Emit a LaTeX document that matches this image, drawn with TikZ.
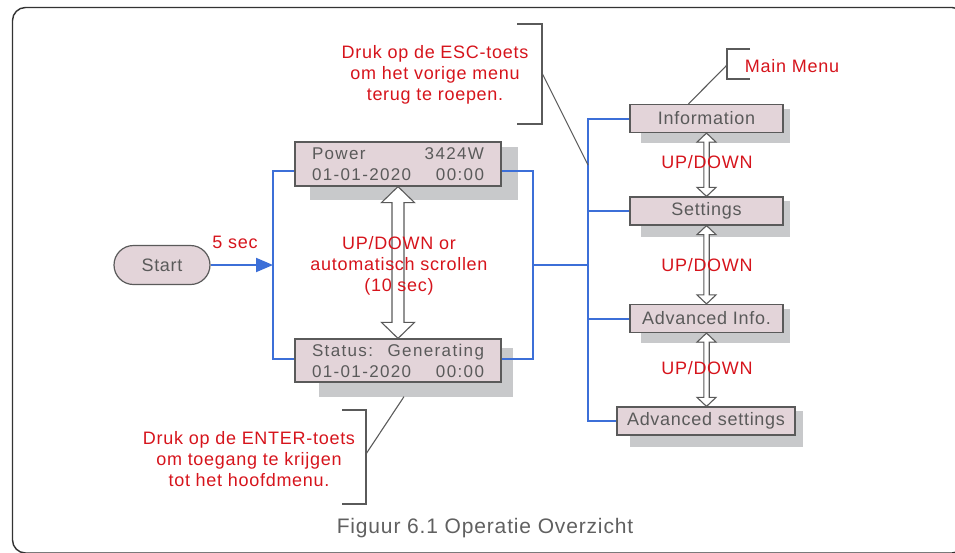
\documentclass[tikz,border=0pt]{standalone}
\usepackage{fontspec}
\setmainfont{Liberation Sans}[LetterSpace=4]
\usetikzlibrary{calc,backgrounds,arrows.meta}
\definecolor{lcdfill}{HTML}{E3D4D9}
\definecolor{lcdline}{HTML}{5A5A5A}
\definecolor{lcdshade}{HTML}{C8C9CB}
\definecolor{busblue}{HTML}{3C6FD8}
\definecolor{notered}{HTML}{D6141C}
\definecolor{capgray}{HTML}{606060}
\newcommand\lcdrow[2]{\makebox[172pt]{#1\hfill#2}}
\newcommand\updown[5]{%
  \draw [hollow] let \p1 = (#1.south), \p2 = (#2.north) in
  (\x1,\y1) -- (\x1+#4,\y1-#5) -- (\x1+#3,\y1-#5) -- (\x1+#3,\y2+#5)
  -- (\x1+#4,\y2+#5) -- (\x1,\y2) -- (\x1-#4,\y2+#5) -- (\x1-#3,\y2+#5)
  -- (\x1-#3,\y1-#5) -- (\x1-#4,\y1-#5) -- cycle ;}
\tikzset{
  lcd/.style={draw=lcdline, fill=lcdfill, line width=1.2pt, text=lcdline, inner sep=0pt},
  menu/.style={lcd, minimum height=28pt},
  screen/.style={lcd, minimum width=206pt, align=center,
    font=\fontsize{17}{21}\selectfont\addfontfeature{LetterSpace=8}},
  link/.style={busblue, line width=2pt},
  pointer/.style={lcdline, line width=1.1pt},
  hollow/.style={draw=lcdline, fill=white, line width=1.1pt},
  note/.style={text=notered, align=center},
}
\begin{document}
\begin{tikzpicture}[x=1pt, y=-1pt, font=\fontsize{18}{21}\selectfont]
    \useasboundingbox (0,0) rectangle (955,552) ;
    \clip (0,0) rectangle (955,552) ;
    \draw [line width=1.4pt, black!80, rounded corners=13pt] (12.5,7.5) rectangle (965,553) ;

    \node [lcd, rounded corners=19.5pt, minimum width=96pt, minimum height=39pt] (start) at (162,265) {Start} ;
    \node [screen, minimum height=44pt] (power) at (398,164)
      {\lcdrow{Power}{3424W}\\\lcdrow{01-01-2020}{00:00}} ;
    \node [screen, minimum height=43pt] (status) at (398,360.5)
      {\lcdrow{Status:}{Generating}\\\lcdrow{01-01-2020}{00:00}} ;

    \node [menu, minimum width=153pt] (info) at (706.5,118.5) {Information} ;
    \node [menu, minimum width=153pt] (settings) at (706.5,211) {Settings} ;
    \node [menu, minimum width=153pt] (advinfo) at (706.5,318.5) {Advanced Info.} ;
    \node [menu, minimum width=178pt] (advset) at (706,421) {Advanced settings} ;

    \begin{scope}[on background layer]
      \foreach \n/\l/\t/\r/\b in {power/16/6/16/13, status/25/10/11/14, info/12/5/6/10,
        settings/12/5/6/11, advinfo/12/5/6/10, advset/14/5/7/11}
        \fill [lcdshade] ([shift={(\l,\t)}]\n.north west) rectangle ([shift={(\r,\b)}]\n.south east) ;
    \end{scope}

    \coordinate (lbus) at (273,265) ;
    \coordinate (rbus) at (533,265) ;
    \coordinate (mbus) at (588,265) ;
    \draw [link, -{Triangle[length=17pt, width=14pt]}] (start) -- (lbus) ;
    \draw [link] ([shift={(0,7)}]power.west) -| (lbus) |- ([shift={(0,-1.5)}]status.west) ;
    \draw [link] ([shift={(0,7)}]power.east) -| (rbus) |- ([shift={(0,-1.5)}]status.east) ;
    \draw [link] (rbus) -- (mbus) ;
    \draw [link] (info.west) -| (mbus) |- (advset.west) ;
    \foreach \n in {settings, advinfo} \draw [link] (\n.west) -- (\n.west -| mbus) ;

    \updown{power}{status}{6pt}{16.5pt}{16pt}
    \updown{info}{settings}{2.7pt}{9.5pt}{9pt}
    \updown{settings}{advinfo}{2.7pt}{9.5pt}{9pt}
    \updown{advinfo}{advset}{2.7pt}{9.5pt}{9pt}

    \node [note] (esc) at (435,75) {Druk op de ESC-toets\\om het vorige menu\\terug te roepen.} ;
    \node [note] (enter) at (249,459) {Druk op de ENTER-toets\\om toegang te krijgen\\tot het hoofdmenu.} ;
    \node [note] (mainmenu) at (792,66) {Main Menu} ;
    \node [note] (delay) at (235,242) {5 sec} ;
    \node [note] (scroll) at (399,266) {UP/DOWN or\\automatisch scrollen\\(10 sec)} ;
    \foreach \y/\n in {162/ud1, 265/ud2, 368/ud3} \node [note] (\n) at (707,\y) {UP/DOWN} ;
    \node [text=capgray, font=\fontsize{21}{24}\selectfont] (caption) at (485,528) {Figuur 6.1 Operatie Overzicht} ;

    \coordinate (escpin) at (588,165) ;
    \draw [pointer] (517,24) -- (542,24) -- (542,124) -- (517,124) ;
    \draw [pointer] (542,73) -- (escpin) ;
    \draw [pointer] (750,49) -- (727,49) -- (727,79) -- (750,79) ;
    \draw [pointer] (727,65) -- ([xshift=-18pt]info.north) ;
    \draw [pointer] (342,410) -- (366,410) -- (366,504) -- (342,504) ;
    \draw [pointer] (366,454) -- ([shift={(6,14)}]status.south) ;
  \end{tikzpicture}
\end{document}
